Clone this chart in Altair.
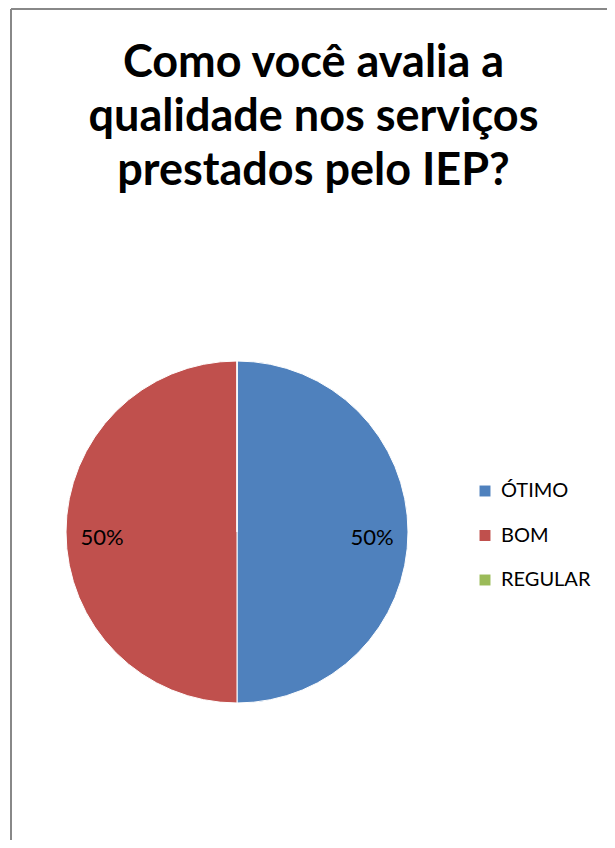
import altair as alt
import pandas as pd

categories = ["ÓTIMO", "BOM", "REGULAR"]
values = [50, 50, 0]
labels = ["50%", "50%", ""]
colors = ["#4F81BD", "#C0504D", "#9BBB59"]
title_lines = ["Como você avalia a", "qualidade nos serviços", "prestados pelo IEP?"]

df = pd.DataFrame({"cat": categories, "val": values, "label": labels, "order": [0, 1, 2]})

W, H = 599, 832
CX, CY, R = 229, 524, 171
FONT = "Lato"

base = alt.Chart(df)

pie = base.mark_arc(radius=R, stroke="white", strokeWidth=1).encode(
    theta=alt.Theta("val:Q", stack=True),
    order=alt.Order("order:Q"),
    color=alt.Color(
        "cat:N",
        scale=alt.Scale(domain=categories, range=colors),
        sort=categories,
        legend=alt.Legend(
            title=None,
            orient="none",
            legendX=467,
            legendY=473,
            symbolType="square",
            symbolSize=120,
            symbolStrokeWidth=0,
            labelFont=FONT,
            labelFontSize=20,
            labelColor="#000000",
            labelOffset=6,
            rowPadding=24.5,
            padding=0,
        ),
    ),
    x=alt.value(CX),
    y=alt.value(CY),
)

txt = base.transform_filter("datum.val > 0").mark_text(
    radius=135, font=FONT, fontSize=22, color="#000000"
).encode(
    theta=alt.Theta("val:Q", stack=True),
    order=alt.Order("order:Q"),
    text="label:N",
    x=alt.value(CX),
    y=alt.value(CY + 6),
)

border_left = alt.Chart(df).mark_rule(color="#888888", strokeWidth=2).encode(
    x=alt.value(3), y=alt.value(1), y2=alt.value(H)
)
border_top = alt.Chart(df).mark_rule(color="#888888", strokeWidth=2).encode(
    x=alt.value(3), x2=alt.value(W), y=alt.value(1)
)

chart = alt.layer(border_left, border_top, pie, txt).properties(
    width=W,
    height=H,
    autosize=alt.AutoSizeParams(type="none"),
    padding=0,
    title=alt.TitleParams(
        text=title_lines,
        font=FONT,
        fontSize=45,
        fontWeight="bold",
        color="#000000",
        anchor="middle",
        dx=6,
        offset=-186,
        lineHeight=54,
    ),
).configure_view(stroke=None)

chart.save("out.html", embed_options={"renderer": "svg", "actions": False})
